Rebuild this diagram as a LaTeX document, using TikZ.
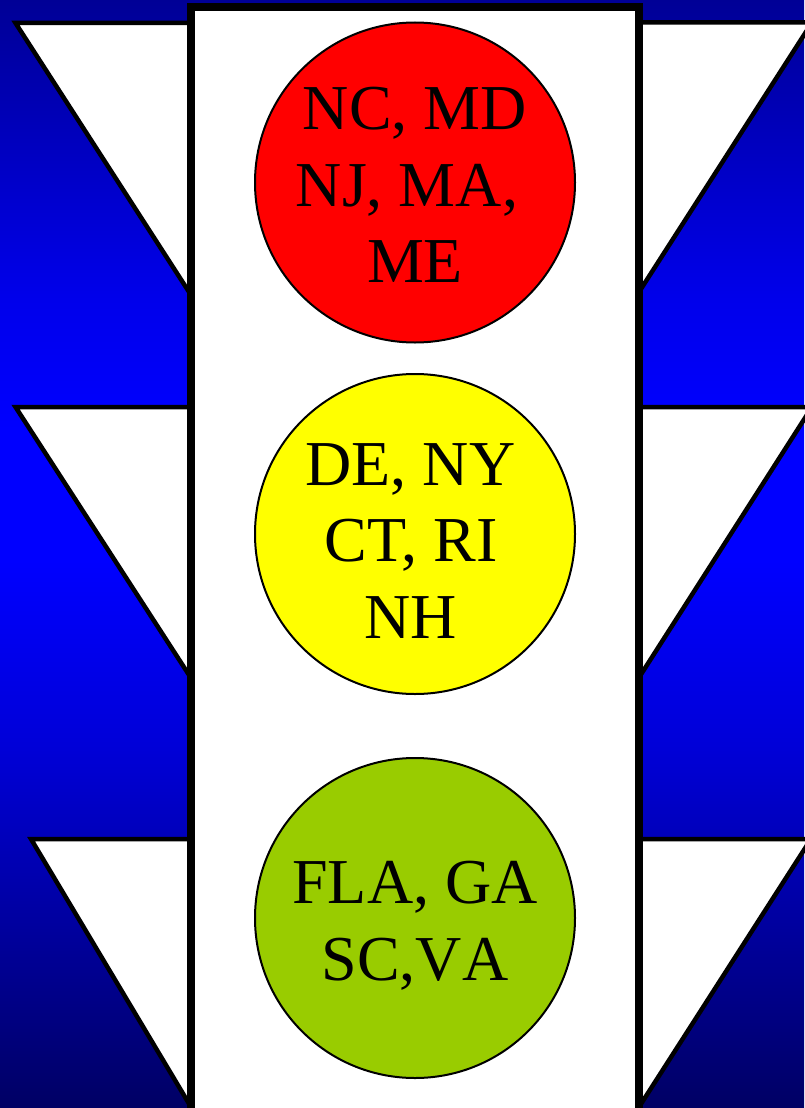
\documentclass[tikz,border=0pt]{standalone}
\usepackage{fontspec}
\setmainfont{Liberation Serif}
\definecolor{bgtop}{RGB}{0,0,150}
\definecolor{bgup}{RGB}{0,0,235}
\definecolor{bgmid}{RGB}{0,0,255}
\definecolor{bglow}{RGB}{0,0,215}
\definecolor{bgbot}{RGB}{0,0,100}
\definecolor{lampred}{RGB}{255,0,0}
\definecolor{lampyellow}{RGB}{255,255,0}
\definecolor{lampgreen}{RGB}{153,204,0}
\pgfdeclareverticalshading{bgshade}{100bp}{color(0bp)=(bgbot); color(25bp)=(bgbot); color(41.2bp)=(bglow); color(49.7bp)=(bgmid); color(55.6bp)=(bgmid); color(61.5bp)=(bgup); color(75bp)=(bgtop); color(100bp)=(bgtop)}
\tikzset{
  visor/.style={fill=white, draw=black, line width=4.5pt, line join=miter},
  housing/.style={fill=white, draw=black, line width=7.5pt, line join=miter},
  lamp/.style={circle, draw=black, line width=2pt, minimum size=320pt, inner sep=0pt},
  lampline/.style={anchor=base, inner sep=0pt, font=\fontsize{64}{77}\selectfont}
}
\begin{document}
\begin{tikzpicture}[x=1pt, y=-1pt]
\useasboundingbox (0,0) rectangle (804,1108);
\shade[shading=bgshade] (0,0) rectangle (804,1108);
% left visors
\draw[visor] (15.5,23) -- (191,23) -- (191,295) -- cycle;
\draw[visor] (15.5,407) -- (191,407) -- (191,678) -- cycle;
\draw[visor] (31,839) -- (191,839) -- (191,1107) -- cycle;
% right visors
\draw[visor] (639,22.5) -- (812,22.5) -- (639,292) -- cycle;
\draw[visor] (639,407) -- (812,407) -- (639,677.5) -- cycle;
\draw[visor] (639,839) -- (811,839) -- (639,1107) -- cycle;
% housing
\draw[housing] (191,7) rectangle (639,1112);
% lamps
\node[lamp, fill=lampred] (red) at (415,182.5) {};
\node[lamp, fill=lampyellow] (yellow) at (415,534) {};
\node[lamp, fill=lampgreen] (green) at (415,918) {};
% texts
\node[lampline] (r1) at (415,129.3) {NC, MD};
\node[lampline] (r2) at (407,206) {NJ, MA,};
\node[lampline] (r3) at (415,282.7) {ME};
\node[lampline] (y1) at (410.5,485) {DE, NY};
\node[lampline] (y2) at (411,561.7) {CT, RI};
\node[lampline] (y3) at (411,638.3) {NH};
\node[lampline] (g1) at (415,903.3) {FLA, GA};
\node[lampline] (g2) at (415,980) {\addfontfeature{Kerning=Off}SC,VA};
\end{tikzpicture}
\end{document}
